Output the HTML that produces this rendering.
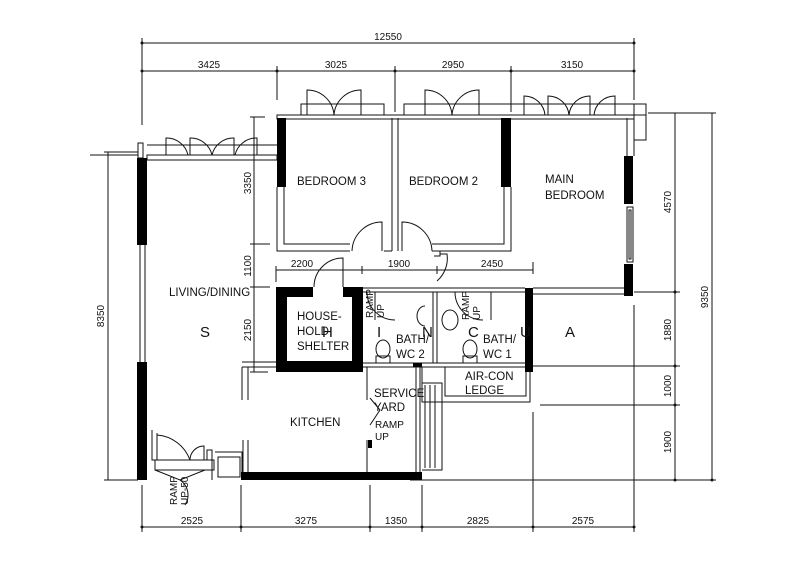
<!DOCTYPE html>
<html><head><meta charset="utf-8"><style>
html,body{margin:0;padding:0;background:#fff;}
svg{display:block;}
text{font-family:"Liberation Sans",sans-serif;fill:#111;}
.d{font-size:10px;}
.r{font-size:11.5px;}
</style></head><body>
<svg width="800" height="581" viewBox="0 0 800 581" xmlns="http://www.w3.org/2000/svg">
<g stroke="#111" stroke-width="1" fill="none">
<line x1="142" y1="43" x2="634" y2="43"/>
<line x1="142" y1="71" x2="634" y2="71"/>
<line x1="142" y1="38" x2="142" y2="125"/>
<line x1="634" y1="38" x2="634" y2="100"/>
<line x1="277" y1="66" x2="277" y2="100"/>
<line x1="395" y1="66" x2="395" y2="112"/>
<line x1="511" y1="66" x2="511" y2="112"/>
<rect x="277" y="115" width="357" height="4"/>
<rect x="301" y="104" width="83" height="11"/>
<rect x="404" y="104" width="242" height="11"/>
<rect x="634" y="104" width="12" height="36"/>
<path d="M307 115 V90 A27 27 0 0 1 334 115 M334 115 A27 27 0 0 1 361 90 V115"/>
<path d="M425 115 V90 A27 27 0 0 1 452 115 M452 115 A27 27 0 0 1 479 90 V115"/>
<path d="M524 115 V96 A21 21 0 0 1 545 115 M548 115 V96 A21 21 0 0 1 569 115 M569 115 A21 21 0 0 1 590 96 V115 M594 115 A21 21 0 0 1 615 96 V115"/>
<line x1="147" y1="145" x2="277" y2="145"/>
<rect x="147" y="155" width="130" height="5"/>
<rect x="138" y="143" width="5" height="15"/>
<path d="M166 155 V138 A22 22 0 0 1 188 155 M190 155 V138 A22 22 0 0 1 212 155 M212 155 A22 22 0 0 1 234 138 V155 M235 155 A22 22 0 0 1 257 138 V155"/>
<line x1="90" y1="155" x2="138" y2="155"/>
<line x1="140" y1="245" x2="140" y2="362"/><line x1="145" y1="245" x2="145" y2="362"/>
<path d="M277 187 V251 H350 M392 251 V118 M398 118 V251 M284 187 V244 H350"/>
<path d="M382 251 V222 A30 30 0 0 0 352 251"/>
<path d="M384 251 H392"/>
<path d="M402 251 V222 A30 30 0 0 1 432 251"/>
<path d="M432 251 H511 V187 M432 244 H504 V187"/>
<path d="M434 251 H440 V256 H434 M440 254 H447 A30 30 0 0 1 437 281 "/>
<path d="M627 118 V156 M634 118 V156"/>
<rect x="627" y="207" width="6" height="55"/>
<rect x="629" y="210" width="2" height="49"/>
<path d="M533 288 H627 M533 294 H627"/>
<line x1="675" y1="113" x2="675" y2="480"/>
<line x1="712" y1="113" x2="712" y2="480"/>
<line x1="648" y1="113" x2="716" y2="113"/>
<line x1="634" y1="292" x2="680" y2="292"/>
<line x1="533" y1="366" x2="680" y2="366"/>
<line x1="540" y1="405" x2="680" y2="405"/>
<line x1="410" y1="480" x2="716" y2="480"/>
<line x1="634" y1="305" x2="634" y2="532"/>
<line x1="533" y1="412" x2="533" y2="532"/>
<line x1="108" y1="152" x2="108" y2="480"/>
<line x1="104" y1="152" x2="138" y2="152"/>
<line x1="104" y1="480" x2="138" y2="480"/>
<line x1="254" y1="117" x2="254" y2="372"/>
<line x1="250" y1="117" x2="265" y2="117"/>
<line x1="250" y1="244" x2="270" y2="244"/>
<line x1="250" y1="287" x2="270" y2="287"/>
<line x1="250" y1="372" x2="268" y2="372"/>
<line x1="276" y1="270" x2="533" y2="270"/>
<line x1="276" y1="266" x2="276" y2="282"/>
<line x1="362" y1="266" x2="362" y2="274"/>
<line x1="437" y1="266" x2="437" y2="274"/>
<line x1="533" y1="262" x2="533" y2="274"/>
<path d="M343 287 V258 A29 29 0 0 0 314 287"/>
<path d="M363 288 H525 M363 292 H525 M433 292 V363 M437 292 V363 M363 363 H525 M363 367 H533"/>
<path d="M367 292 A28 28 0 0 0 395 320 M375 292 V320"/>
<path d="M455 292 A28 28 0 0 0 483 320 M491 292 V320"/>
<ellipse cx="383" cy="349" rx="7" ry="9"/>
<rect x="376" y="356" width="14" height="7"/>
<ellipse cx="470" cy="349" rx="7" ry="9"/>
<rect x="463" y="356" width="14" height="7"/>
<path d="M425 306 A8 10 0 0 0 425 326"/>
<ellipse cx="450" cy="320" rx="8" ry="10"/>
<path d="M242 362 H363 M242 367 H363 M242 367 V400 M248 367 V400"/>
<path d="M243 440 V480 M248 440 V480"/>
<path d="M367 367 V400 M367 440 V472 M420 367 V472 M416 367 V472"/>
<path d="M370 398 L380 410 L370 425"/>
<path d="M422 367 V402 H530 V367 M445 367 V396 H526 V367"/>
<path d="M422 383 H442 V470 H422 M425 385 V468 M430 385 V468 M435 385 V468"/>
<path d="M152 430 V460 H157 V433"/>
<path d="M155 460 H214 V470 H155 Z"/>
<path d="M157 435 A38 38 0 0 1 190 460"/>
<path d="M190 460 A14 14 0 0 1 204 446 V460"/>
<path d="M207 460 V450 H212 V480"/>
<path d="M215 452 H242 V480 M218 457 H240 V477 H218 Z"/>
<path d="M155 470 L180 480 L205 470"/>
<path d="M180 480 A18 18 0 0 1 185 505"/>
<line x1="142" y1="527" x2="634" y2="527"/>
<line x1="142" y1="485" x2="142" y2="532"/>
<line x1="241" y1="485" x2="241" y2="532"/>
<line x1="370" y1="485" x2="370" y2="532"/>
<line x1="422" y1="485" x2="422" y2="532"/>
</g>
<g fill="#000">
<rect x="137" y="158" width="10" height="87"/>
<rect x="137" y="362" width="10" height="118"/>
<rect x="277" y="118" width="9" height="69"/>
<rect x="501" y="118" width="10" height="69"/>
<rect x="624" y="156" width="9" height="48"/>
<rect x="624" y="264" width="9" height="32"/>
<rect x="525" y="288" width="8" height="84"/>
<rect x="241" y="472" width="181" height="8"/>
<path d="M276 287 H313 V297 H287 V361 H352 V297 H343 V287 H363 V372 H276 Z"/>
<rect x="413" y="363" width="9" height="4"/>
<rect x="368" y="440" width="4" height="8"/>
</g>
<g fill="#111">
<circle cx="142" cy="43" r="1.5"/><circle cx="634" cy="43" r="1.5"/>
<circle cx="142" cy="71" r="1.5"/><circle cx="277" cy="71" r="1.5"/><circle cx="395" cy="71" r="1.5"/><circle cx="511" cy="71" r="1.5"/><circle cx="634" cy="71" r="1.5"/>
<circle cx="142" cy="527" r="1.5"/><circle cx="241" cy="527" r="1.5"/><circle cx="370" cy="527" r="1.5"/><circle cx="422" cy="527" r="1.5"/><circle cx="533" cy="527" r="1.5"/><circle cx="634" cy="527" r="1.5"/>
<circle cx="675" cy="292" r="1.5"/><circle cx="675" cy="366" r="1.5"/><circle cx="675" cy="405" r="1.5"/><circle cx="675" cy="480" r="1.5"/><circle cx="712" cy="480" r="1.5"/>
</g>
<g fill="#e6e6e6" style="font-size:15px">
<text x="200" y="337">S</text><text x="322" y="337">H</text><text x="377" y="337">I</text><text x="422" y="337">N</text><text x="468" y="337">C</text><text x="520" y="337">U</text><text x="565" y="337">A</text>
</g>
<text class="d" x="388" y="40" text-anchor="middle">12550</text>
<text class="d" x="209" y="68" text-anchor="middle">3425</text>
<text class="d" x="336" y="68" text-anchor="middle">3025</text>
<text class="d" x="453" y="68" text-anchor="middle">2950</text>
<text class="d" x="572" y="68" text-anchor="middle">3150</text>
<text class="d" x="192" y="524" text-anchor="middle">2525</text>
<text class="d" x="306" y="524" text-anchor="middle">3275</text>
<text class="d" x="396" y="524" text-anchor="middle">1350</text>
<text class="d" x="478" y="524" text-anchor="middle">2825</text>
<text class="d" x="583" y="524" text-anchor="middle">2575</text>
<text class="d" x="302" y="267" text-anchor="middle">2200</text>
<text class="d" x="399" y="267" text-anchor="middle">1900</text>
<text class="d" x="492" y="267" text-anchor="middle">2450</text>
<text class="d" transform="translate(104,316) rotate(-90)" text-anchor="middle">8350</text>
<text class="d" transform="translate(251,183) rotate(-90)" text-anchor="middle">3350</text>
<text class="d" transform="translate(251,266) rotate(-90)" text-anchor="middle">1100</text>
<text class="d" transform="translate(251,330) rotate(-90)" text-anchor="middle">2150</text>
<text class="d" transform="translate(671,202) rotate(-90)" text-anchor="middle">4570</text>
<text class="d" transform="translate(671,330) rotate(-90)" text-anchor="middle">1880</text>
<text class="d" transform="translate(671,386) rotate(-90)" text-anchor="middle">1000</text>
<text class="d" transform="translate(671,442) rotate(-90)" text-anchor="middle">1900</text>
<text class="d" transform="translate(708,297) rotate(-90)" text-anchor="middle">9350</text>
<text class="r" x="297" y="185">BEDROOM  3</text>
<text class="r" x="409" y="185">BEDROOM  2</text>
<text class="r" x="545" y="183">MAIN</text>
<text class="r" x="545" y="199">BEDROOM</text>
<text class="r" x="169" y="296">LIVING/DINING</text>
<text class="r" x="297" y="320">HOUSE-</text>
<text class="r" x="297" y="335">HOLD</text>
<text class="r" x="297" y="350">SHELTER</text>
<text class="r" x="396" y="343">BATH/</text>
<text class="r" x="396" y="358">WC  2</text>
<text class="r" x="483" y="343">BATH/</text>
<text class="r" x="483" y="358">WC  1</text>
<text class="r" x="465" y="380">AIR-CON</text>
<text class="r" x="465" y="394">LEDGE</text>
<text class="r" x="374" y="397">SERVICE</text>
<text class="r" x="374" y="411">YARD</text>
<text class="r" x="290" y="426">KITCHEN</text>
<text class="d" x="375" y="428">RAMP</text>
<text class="d" x="375" y="440">UP</text>
<text class="d" transform="translate(373,318) rotate(-90)">RAMP</text>
<text class="d" transform="translate(384,318) rotate(-90)">UP</text>
<text class="d" transform="translate(469,320) rotate(-90)">RAMP</text>
<text class="d" transform="translate(480,320) rotate(-90)">UP</text>
<text class="d" transform="translate(177,505) rotate(-90)">RAMP</text>
<text class="d" transform="translate(188,505) rotate(-90)">UP-50</text>
</svg>
</body></html>
